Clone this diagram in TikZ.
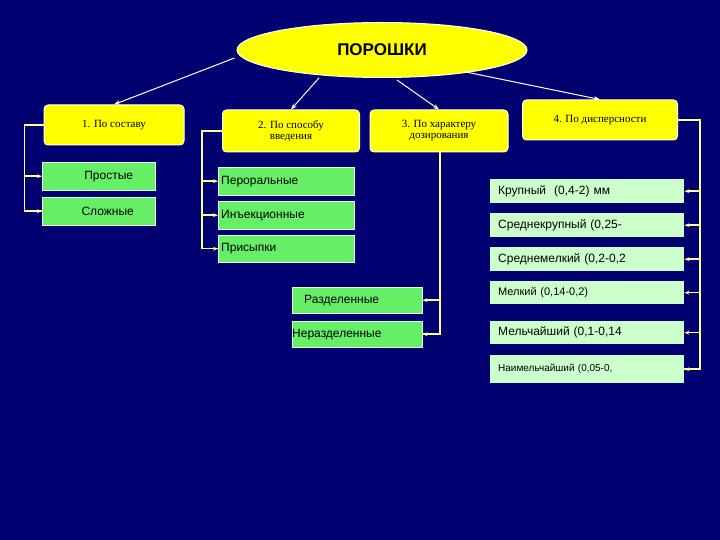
\documentclass[tikz,border=0pt]{standalone}
\usepackage{fontspec}
\setmainfont{Liberation Serif}
\newfontfamily\ar{Liberation Sans}
\usetikzlibrary{shapes.geometric,arrows.meta}
\definecolor{bg}{HTML}{000070}
\definecolor{yel}{HTML}{FFFF00}
\definecolor{grn}{HTML}{66EE66}
\definecolor{pgr}{HTML}{CCFFCC}
\definecolor{ln}{HTML}{FFFF99}
\tikzset{
 ybox/.style={draw=white,line width=1pt,fill=yel,rounded corners=4pt,inner sep=1pt,align=center,font=\fontsize{11}{11}\selectfont},
 gbox/.style={draw=white!80!grn,fill=grn,inner sep=0pt,anchor=north west,font=\ar\fontsize{12}{12}\selectfont},
 pbox/.style={fill=pgr,inner sep=0pt,anchor=north west,font=\ar\fontsize{12}{12}\selectfont},
 wl/.style={draw=white,line width=1pt,-{Stealth[length=6pt]}},
 yl/.style={draw=ln,line width=1.5pt},
 ya/.style={draw=ln,line width=1.5pt,-{Stealth[length=5pt]}}
}
\begin{document}
\begin{tikzpicture}[x=1pt,y=-1pt]
\fill[bg] (0,0) rectangle (720,540);
\useasboundingbox (0,0) rectangle (720,540);
\node[ellipse,draw=white,line width=1pt,fill=yel,minimum width=290,minimum height=55,font=\ar\bfseries\fontsize{17}{17}\selectfont] (e) at (382,50) {ПОРОШКИ};
\node[ybox,minimum width=140,minimum height=40] (y1) at (114,125) {1. По составу};
\node[ybox,minimum width=137,minimum height=42] (y2) at (291,131) {2. По способу\\введения};
\node[ybox,minimum width=138,minimum height=42] (y3) at (439,131) {3. По характеру\\дозирования};
\node[ybox,minimum width=155,minimum height=40] (y4) at (600,120) {4. По дисперсности};
% green
\node[gbox,minimum width=113,minimum height=28] (g1) at (42,162) {\hspace*{20pt}Простые\hfill};
\node[gbox,minimum width=113,minimum height=28] (g2) at (42,197) {\hspace*{18pt}Сложные};
\node[gbox,minimum width=136,minimum height=28,text width=130,align=left] (g3) at (218,167) {Пероральные};
\node[gbox,minimum width=136,minimum height=28,text width=130,align=left] (g4) at (218,201) {Инъекционные};
\node[gbox,minimum width=136,minimum height=27,text width=130,align=left] (g5) at (218,235) {Присыпки};
\node[gbox,minimum width=130,minimum height=26,text width=122,align=left] (g6) at (292,287) {\hspace*{8pt}Разделенные};
\node[gbox,minimum width=130,minimum height=26,text width=130,align=left] (g7) at (292,321) {Неразделенные};
% pale
\node[pbox,minimum width=194,minimum height=24,text width=190,align=left] (p1) at (490,179) {\hspace*{6pt}Крупный\ \ (0,4-2) мм};
\node[pbox,minimum width=194,minimum height=24,text width=190,align=left] (p2) at (490,213) {\hspace*{6pt}Среднекрупный (0,25-};
\node[pbox,minimum width=194,minimum height=24,text width=190,align=left] (p3) at (490,247) {\hspace*{6pt}Среднемелкий (0,2-0,2};
\node[pbox,minimum width=194,minimum height=23,text width=190,align=left,font=\ar\fontsize{11}{11}\selectfont] (p4) at (490,281) {\hspace*{6pt}Мелкий (0,14-0,2)};
\node[pbox,minimum width=194,minimum height=23,text width=190,align=left] (p5) at (490,321) {\hspace*{6pt}Мельчайший (0,1-0,14};
\node[pbox,minimum width=194,minimum height=28,text width=190,align=left,font=\ar\fontsize{10}{10}\selectfont] (p6) at (490,355) {\hspace*{6pt}Наимельчайший (0,05-0,};
% white arrows
\draw[wl] (e.west) ++(-2,8) -- (y1.north);
\draw[wl] (e.south west) ++(40,8) -- (y2.north);
\draw[wl] (e.south) ++(15,2) -- (y3.north);
\draw[wl] (e.south east) ++(-20,2) -- (y4.north);
% brackets
\draw[yl] (y1.west) -- ++(-19,0) coordinate (c1) |- (g2.west);
\draw[ya] (c1 |- g1.west) -- (g1.west);
\draw[ya] (c1 |- g2.west) -- (g2.west);
\draw[yl] (y2.west) -- ++(-20,0) coordinate (c2) |- (g5.west);
\draw[ya] (c2 |- g3.west) -- (g3.west);
\draw[ya] (c2 |- g4.west) -- (g4.west);
\draw[ya] (c2 |- g5.west) -- (g5.west);
\coordinate (c3) at (440,152);
\draw[yl] (c3) |- (g7.east);
\draw[ya] (c3 |- g6.east) -- (g6.east);
\draw[ya] (c3 |- g7.east) -- (g7.east);
\draw[yl] (y4.east) -- ++(22,0) coordinate (c4) |- (p6.east);
\foreach \p in {p1,p2,p3,p4,p5,p6} \draw[ya] (c4 |- \p.east) -- (\p.east);
\end{tikzpicture}
\end{document}
